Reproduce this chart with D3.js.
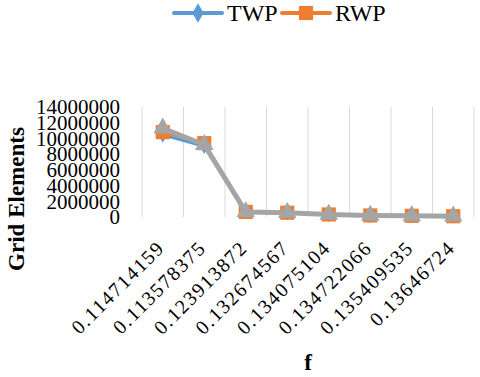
<html>
<head>
<meta charset="utf-8">
<style>
  body { margin: 0; background: #fff; }
  text { font-family: "Liberation Serif", "Times New Roman", serif; fill: #000; }
  .grid line { stroke: #d9d9d9; stroke-width: 1; }
</style>
</head>
<body>
<script src="https://cdn.jsdelivr.net/npm/d3@7"></script>
<script>
var categories = ["0.114714159", "0.113578375", "0.123913872", "0.132674567",
                  "0.134075104", "0.134722066", "0.135409535", "0.13646724"];
var twp = [10450000, 9000000, 650000, 550000, 320000, 200000, 150000, 100000];
var rwp = [10800000, 9400000, 650000, 550000, 320000, 200000, 150000, 100000];
var third = [11300000, 9200000, 650000, 550000, 320000, 200000, 150000, 100000];
var yTicks = [0, 2000000, 4000000, 6000000, 8000000, 10000000, 12000000, 14000000];

var width = 480, height = 377;
var plotLeft = 142, plotRight = 474, plotTop = 107, plotBottom = 217;

var svg = d3.select("body").append("svg")
    .attr("width", width)
    .attr("height", height);

var x = d3.scaleBand().domain(categories).range([plotLeft, plotRight]);
var y = d3.scaleLinear().domain([0, 14000000]).range([plotBottom, plotTop]);

// vertical gridlines at category boundaries
var bounds = categories.map(function(c) { return x(c); }).concat([plotRight]);
svg.append("g").attr("class", "grid")
  .selectAll("line").data(bounds).enter().append("line")
    .attr("x1", function(d) { return d; })
    .attr("x2", function(d) { return d; })
    .attr("y1", plotTop)
    .attr("y2", plotBottom);

// y axis
var yAxis = svg.append("g")
    .attr("transform", "translate(" + (plotLeft - 22) + ",0)")
    .call(d3.axisLeft(y).tickValues(yTicks).tickFormat(d3.format("d")).tickSize(0).tickPadding(0));
yAxis.select(".domain").remove();
yAxis.selectAll("text")
    .style("font-family", "Liberation Serif, serif")
    .style("font-size", "21px")
    .attr("dy", "0.32em");

// x labels rotated
svg.append("g").selectAll("text").data(categories).enter().append("text")
    .attr("transform", function(d) {
      return "translate(" + (x(d) + x.bandwidth() / 2 + 3) + "," + (plotBottom + 32) + ") rotate(-45)";
    })
    .attr("text-anchor", "end")
    .style("font-size", "20px")
    .style("letter-spacing", "1.6px")
    .text(function(d) { return d; });

var cx = function(d, i) { return x(categories[i]) + x.bandwidth() / 2; };
var line = d3.line().x(cx).y(function(d) { return y(d); });

var series = [
  { name: "TWP", values: twp, color: "#5b9bd5", marker: d3.symbolDiamond, size: 70 },
  { name: "RWP", values: rwp, color: "#ed7d31", marker: d3.symbolSquare, size: 200 },
  { name: "", values: third, color: "#a5a5a5", marker: d3.symbolTriangle, size: 150 }
];

series.forEach(function(s) {
  svg.append("path")
      .datum(s.values)
      .attr("d", line)
      .attr("fill", "none")
      .attr("stroke", s.color)
      .attr("stroke-width", s.name === "" ? 5 : 3)
      .attr("stroke-linejoin", "round");
  svg.append("g").selectAll("path").data(s.values).enter().append("path")
      .attr("transform", function(d, i) { return "translate(" + cx(d, i) + "," + y(d) + ")"; })
      .attr("d", d3.symbol().type(s.marker).size(s.size))
      .attr("fill", s.color);
});

// legend
var legend = [series[0], series[1]];
var lx = [174, 282];
legend.forEach(function(s, i) {
  var g = svg.append("g").attr("transform", "translate(" + lx[i] + ",13)");
  g.append("line").attr("x1", 0).attr("x2", 48).attr("y1", 0).attr("y2", 0)
      .attr("stroke", s.color).attr("stroke-width", 4).attr("stroke-linecap", "round");
  g.append("path").attr("transform", "translate(24,0)")
      .attr("d", d3.symbol().type(s.marker).size(s.marker === d3.symbolSquare ? 200 : 110))
      .attr("fill", s.color);
  g.append("text").attr("x", 53).attr("y", 8)
      .style("font-size", "24px")
      .text(s.name);
});

// axis titles
svg.append("text")
    .attr("transform", "translate(24,199) rotate(-90)")
    .attr("text-anchor", "middle")
    .style("font-size", "23px")
    .style("font-weight", "bold")
    .text("Grid Elements");

svg.append("text")
    .attr("x", 308)
    .attr("y", 370)
    .attr("text-anchor", "middle")
    .style("font-size", "23px")
    .style("font-weight", "bold")
    .text("f");
</script>
</body>
</html>
